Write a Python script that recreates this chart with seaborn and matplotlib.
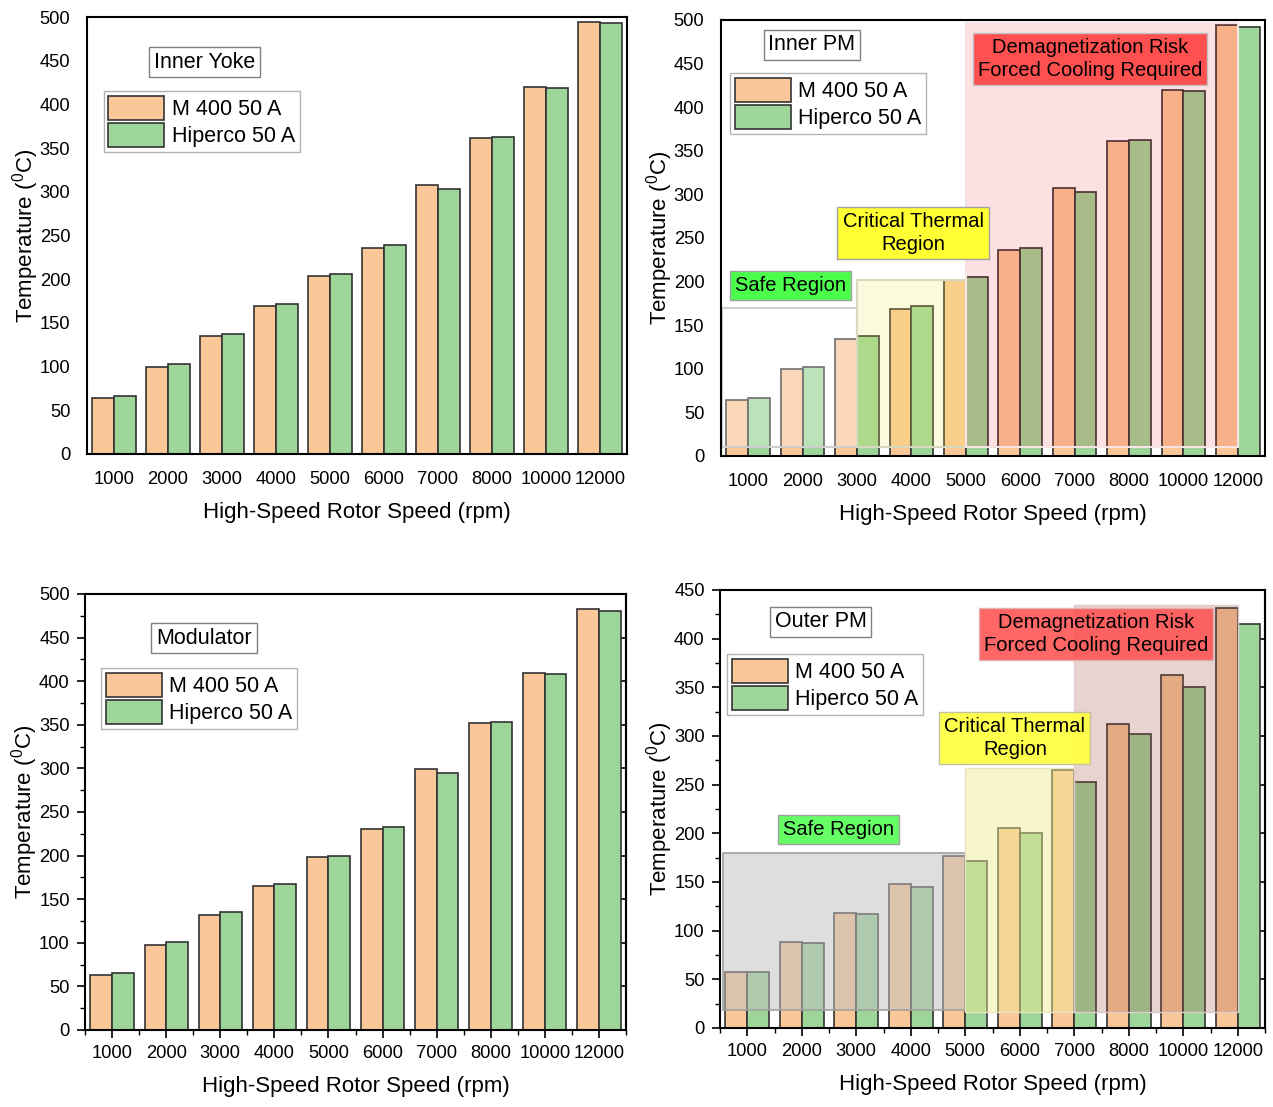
import matplotlib
matplotlib.use("Agg")
import matplotlib.pyplot as plt
import seaborn as sns
import pandas as pd
from matplotlib.patches import Rectangle
from matplotlib.ticker import FixedLocator, MultipleLocator

# ---------------- data ----------------
speeds = ["1000", "2000", "3000", "4000", "5000", "6000", "7000", "8000", "10000", "12000"]
materials = ["M 400 50 A", "Hiperco 50 A"]

inner_yoke_m400 = [64, 100, 135, 169, 204, 236, 308, 362, 420, 494]
inner_yoke_hip = [66, 103, 137, 172, 206, 239, 303, 363, 419, 493]

inner_pm_m400 = [64, 100, 134, 169, 202, 236, 307, 361, 420, 494]
inner_pm_hip = [66, 102, 138, 172, 205, 239, 303, 362, 419, 492]

modulator_m400 = [63, 98, 132, 165, 198, 230, 299, 352, 409, 483]
modulator_hip = [65, 101, 135, 168, 200, 233, 295, 353, 408, 480]

outer_pm_m400 = [58, 88, 118, 148, 177, 205, 265, 312, 363, 431]
outer_pm_hip = [58, 87, 117, 145, 172, 200, 253, 302, 350, 415]

panel_titles = ["Inner Yoke", "Inner PM", "Modulator", "Outer PM"]
ymax = [500, 500, 500, 450]

# shaded regions: (x_start, x_end, y_bottom, y_top) in category/data units
inner_pm_regions = {
    "safe": (-0.48, 2, 10, 170),
    "critical": (2, 4, 10, 202),
    "demag": (4, 9, 10, 496),
}
outer_pm_regions = {
    "safe": (-0.45, 4, 18, 180),
    "critical": (4, 6, 16, 267),
    "demag": (6, 9, 16, 435),
}

# ---------------- style ----------------
sns.set_style("white")
plt.rcParams["font.family"] = ["Liberation Sans", "DejaVu Sans"]
plt.rcParams["mathtext.fontset"] = "custom"
plt.rcParams["mathtext.rm"] = "Liberation Sans"
plt.rcParams["mathtext.it"] = "Liberation Sans"
plt.rcParams["text.color"] = "black"
plt.rcParams["axes.labelcolor"] = "black"
plt.rcParams["xtick.color"] = "black"
plt.rcParams["ytick.color"] = "black"

orange = "#FAC898"
green = "#9ED69A"

fig = plt.figure(figsize=(12.73, 11.07), dpi=100)
W, H = 1273, 1107


def add_axes(l, r, t, b):
    return fig.add_axes([l / W, 1 - b / H, (r - l) / W, (b - t) / H])


axes = [
    add_axes(87, 627, 17, 454),
    add_axes(721, 1265, 20, 456),
    add_axes(85, 626, 594, 1030),
    add_axes(720, 1265, 590, 1028),
]

datasets = [
    (inner_yoke_m400, inner_yoke_hip),
    (inner_pm_m400, inner_pm_hip),
    (modulator_m400, modulator_hip),
    (outer_pm_m400, outer_pm_hip),
]

legend_anchor = [(0.031, 0.83), (0.017, 0.878), (0.03, 0.83), (0.013, 0.854)]
title_pos = [(0.217, 0.897), (0.167, 0.943), (0.22, 0.899), (0.185, 0.927)]

for i, ax in enumerate(axes):
    m400, hip = datasets[i]
    df = pd.DataFrame({
        "speed": speeds * 2,
        "temp": m400 + hip,
        "material": [materials[0]] * len(speeds) + [materials[1]] * len(speeds),
    })
    sns.barplot(data=df, x="speed", y="temp", hue="material", order=speeds,
                hue_order=materials, palette=[orange, green], saturation=1,
                width=0.8, edgecolor="#333333", linewidth=1.2, ax=ax, zorder=2)
    ax.set_xlim(-0.5, len(speeds) - 0.5)
    ax.set_ylim(0, ymax[i])
    ax.yaxis.set_major_locator(MultipleLocator(50))
    ax.set_xlabel("High-Speed Rotor Speed (rpm)", fontsize=16, labelpad=10)
    ax.set_ylabel(r"Temperature ($^{0}$C)", fontsize=16, labelpad=-1)
    for sp in ax.spines.values():
        sp.set_visible(True)
        sp.set_color("black")
        sp.set_linewidth(1.5)
        sp.set_zorder(10)

    if i < 2:
        ax.tick_params(axis="both", which="both", length=0, labelsize=13.2, pad=12)
    else:
        ax.yaxis.set_minor_locator(MultipleLocator(25))
        ax.xaxis.set_minor_locator(FixedLocator([k + 0.5 for k in range(-1, len(speeds))]))
        ax.tick_params(axis="both", which="major", direction="out", length=6, width=1.2,
                       labelsize=13.2, pad=5)
        ax.tick_params(axis="both", which="minor", direction="out", length=3.5, width=1.0)
        ax.tick_params(axis="y", which="both", left=True, right=False)
        ax.tick_params(axis="x", which="both", bottom=True, top=False)
        sec = ax.secondary_yaxis("right")
        sec.yaxis.set_major_locator(MultipleLocator(50))
        sec.tick_params(axis="y", which="major", direction="in", length=6, width=1.2,
                        labelright=False)
        sec.spines["right"].set_linewidth(1.5)

    handles, labels = ax.get_legend_handles_labels()
    if ax.get_legend() is not None:
        ax.get_legend().remove()
    leg = ax.legend(handles, labels, loc="upper left", bbox_to_anchor=legend_anchor[i],
                    borderaxespad=0, fontsize=15.5, frameon=True, fancybox=False,
                    edgecolor="#a0a0a0", handlelength=2.6, handleheight=1.35,
                    handletextpad=0.35, borderpad=0.22, labelspacing=0.12)
    leg.get_frame().set_linewidth(1.0)
    leg.set_zorder(20)

    ax.text(title_pos[i][0], title_pos[i][1], panel_titles[i], transform=ax.transAxes,
            ha="center", va="center", fontsize=15.5, zorder=20,
            bbox=dict(boxstyle="square,pad=0.22", facecolor="white", edgecolor="#808080",
                      linewidth=1.0))


def draw_region(ax, rng, fc, alpha, ec, lw=1.0):
    x0, x1, y0, y1 = rng
    ax.add_patch(Rectangle((x0, y0), x1 - x0, y1 - y0, facecolor=fc, alpha=alpha,
                           edgecolor="none", zorder=3))
    ax.add_patch(Rectangle((x0, y0), x1 - x0, y1 - y0, facecolor="none",
                           edgecolor=ec, linewidth=lw, zorder=3))


# Inner PM regions
ax = axes[1]
draw_region(ax, inner_pm_regions["safe"], "white", 0.3, "#cfcfcf", 1.5)
draw_region(ax, inner_pm_regions["critical"], "#F0EA50", 0.2, "#d8d8c0", 1.5)
draw_region(ax, inner_pm_regions["demag"], "#F01420", 0.13, "#f6e4e4", 1.5)
lab_kw = dict(transform=ax.transAxes, ha="center", va="center", fontsize=14.5, zorder=15,
              multialignment="center", linespacing=1.3)
ax.text(0.127, 0.392, "Safe Region",
        bbox=dict(boxstyle="square,pad=0.25", facecolor="#4DFF4D", edgecolor="#a0a0a0", lw=1), **lab_kw)
ax.text(0.353, 0.511, "Critical Thermal\nRegion",
        bbox=dict(boxstyle="square,pad=0.25", facecolor="#FFFF33", edgecolor="#a0a0a0", lw=1), **lab_kw)
ax.text(0.678, 0.911, "Demagnetization Risk\nForced Cooling Required",
        bbox=dict(boxstyle="square,pad=0.25", facecolor="#FF5050", edgecolor="#c0c0c0", lw=1), **lab_kw)

# Outer PM regions
ax = axes[3]
draw_region(ax, outer_pm_regions["safe"], "#C0C0C0", 0.52, "#a0a0a0", 1.2)
draw_region(ax, outer_pm_regions["critical"], "#EFEA91", 0.47, "#e8e6c0", 1.0)
draw_region(ax, outer_pm_regions["demag"], "#A05046", 0.25, "#e0cccc", 1.0)
lab_kw = dict(transform=ax.transAxes, ha="center", va="center", fontsize=14.5, zorder=15,
              multialignment="center", linespacing=1.3)
ax.text(0.218, 0.454, "Safe Region",
        bbox=dict(boxstyle="square,pad=0.25", facecolor="#66FF66", edgecolor="#a0a0a0", lw=1), **lab_kw)
ax.text(0.541, 0.662, "Critical Thermal\nRegion",
        bbox=dict(boxstyle="square,pad=0.25", facecolor="#FFFF44", edgecolor="#c0c0a0", lw=1, alpha=0.95), **lab_kw)
ax.text(0.690, 0.90, "Demagnetization Risk\nForced Cooling Required",
        bbox=dict(boxstyle="square,pad=0.25", facecolor="#FF5555", edgecolor="#e0b0b0", lw=1, alpha=0.9), **lab_kw)

fig.savefig("out.png", dpi=100)
